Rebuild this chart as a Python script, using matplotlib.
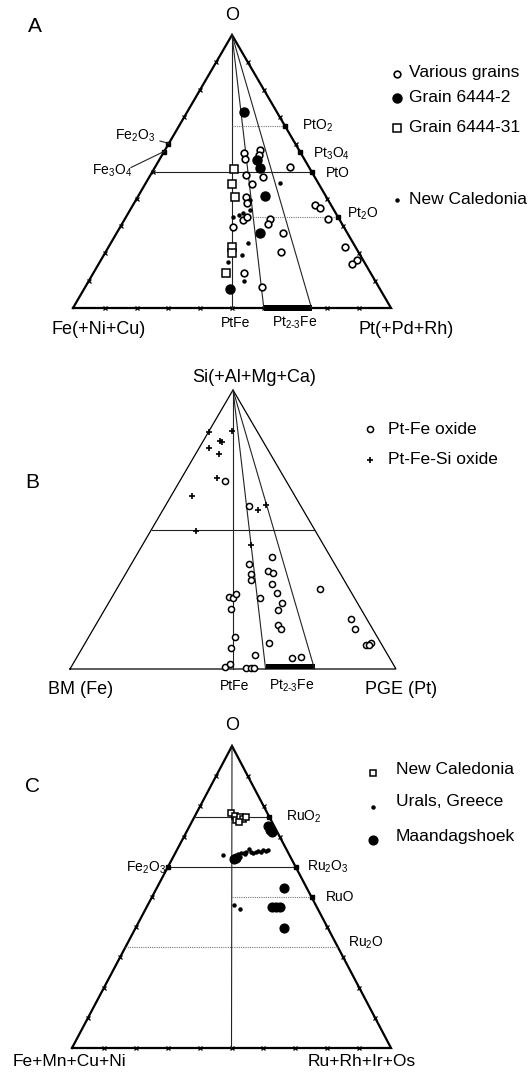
import matplotlib
matplotlib.use("Agg")
import matplotlib.pyplot as plt
import numpy as np

plt.rcParams['font.family'] = ['Liberation Sans', 'DejaVu Sans']
plt.rcParams['mathtext.fontset'] = 'custom'
plt.rcParams['mathtext.rm'] = 'Liberation Sans'
plt.rcParams['mathtext.default'] = 'regular'

# ---- data: ternary fractions (O = top apex, Pt/Ru = right corner) ----
# panel A
a_various_O = [0.579, 0.560, 0.569, 0.545, 0.515, 0.487, 0.479, 0.453, 0.405, 0.386,
               0.322, 0.334, 0.298, 0.325, 0.308, 0.274, 0.206, 0.129, 0.076, 0.377,
               0.365, 0.325, 0.223, 0.174, 0.161]
a_various_Pt = [0.297, 0.306, 0.254, 0.269, 0.425, 0.300, 0.359, 0.335, 0.341, 0.353,
                0.375, 0.381, 0.353, 0.457, 0.460, 0.522, 0.552, 0.473, 0.556, 0.572,
                0.594, 0.638, 0.743, 0.806, 0.796]
a_g2_O = [0.719, 0.542, 0.512, 0.410, 0.274, 0.068]
a_g2_Pt = [0.178, 0.307, 0.332, 0.399, 0.451, 0.459]
a_g31_O = [0.508, 0.454, 0.408, 0.225, 0.203, 0.129]
a_g31_Pt = [0.252, 0.272, 0.305, 0.389, 0.400, 0.418]
a_nc_O = [0.457, 0.359, 0.334, 0.341, 0.237, 0.194, 0.170, 0.099, 0.396, 0.348]
a_nc_Pt = [0.423, 0.377, 0.335, 0.353, 0.433, 0.435, 0.403, 0.488, 0.359, 0.361]

# panel B
b_si_O = [0.851, 0.854, 0.818, 0.813, 0.792, 0.771, 0.685, 0.619, 0.494, 0.589, 0.571, 0.444]
b_si_Pt = [0.000, 0.070, 0.052, 0.060, 0.029, 0.073, 0.109, 0.066, 0.140, 0.306, 0.292, 0.333]
b_ox_O = [0.673, 0.586, 0.402, 0.375, 0.339, 0.320, 0.351, 0.343, 0.306, 0.274, 0.255, 0.288,
          0.236, 0.211, 0.258, 0.255, 0.268, 0.214, 0.158, 0.145, 0.181, 0.145, 0.086, 0.093,
          0.113, 0.075, 0.094, 0.049, 0.038, 0.042, 0.006, 0.018, 0.002, 0.002, 0.004, 0.087]
b_ox_Pt = [0.138, 0.256, 0.418, 0.362, 0.385, 0.394, 0.431, 0.450, 0.466, 0.498, 0.456, 0.622,
           0.533, 0.534, 0.358, 0.374, 0.374, 0.387, 0.560, 0.576, 0.770, 0.801, 0.866, 0.878,
           0.451, 0.456, 0.562, 0.543, 0.663, 0.689, 0.472, 0.481, 0.540, 0.554, 0.563, 0.874]

# panel C
c_nc_O = [0.778, 0.767, 0.754, 0.765, 0.757, 0.765, 0.748]
c_nc_Ru = [0.107, 0.127, 0.137, 0.144, 0.157, 0.163, 0.149]
c_ur_O = [0.640, 0.635, 0.641, 0.645, 0.647, 0.650, 0.659, 0.650, 0.646, 0.649, 0.651,
          0.650, 0.654, 0.652, 0.656, 0.643, 0.632, 0.473, 0.460]
c_ur_Ru = [0.152, 0.196, 0.200, 0.206, 0.214, 0.221, 0.225, 0.234, 0.244, 0.251, 0.258,
           0.266, 0.272, 0.281, 0.285, 0.220, 0.211, 0.270, 0.295]
c_ma_O = [0.735, 0.723, 0.716, 0.625, 0.630, 0.531, 0.467, 0.467, 0.467, 0.399]
c_ma_Ru = [0.247, 0.259, 0.269, 0.194, 0.199, 0.397, 0.394, 0.406, 0.419, 0.463]

# triangle corners (left, right, top) in figure pixels
panA = ((73, 308), (391, 308), (232, 35))
panB = ((70, 669), (396, 669), (233, 390))
panC = ((72, 1048), (391, 1048), (232, 746))


def tern(pan, o, pt):
    L, R, T = pan
    o = np.asarray(o, float)
    pt = np.asarray(pt, float)
    fe = 1 - o - pt
    return fe*L[0] + pt*R[0] + o*T[0], fe*L[1] + pt*R[1] + o*T[1]


def seg(ax, pan, p1, p2, **kw):
    x, y = tern(pan, [p1[0], p2[0]], [p1[1], p2[1]])
    ax.plot(x, y, **kw)


fig = plt.figure(figsize=(5.31, 10.72), dpi=100)
ax = fig.add_axes([0, 0, 1, 1])
ax.set_xlim(0, 531)
ax.set_ylim(1072, 0)
ax.axis('off')

thin = dict(color='#222222', lw=0.8)
dots = dict(color='#777777', lw=0.8, ls=(0, (1, 1)))


def frame(pan, lw):
    L, R, T = pan
    ax.plot([L[0], R[0], T[0], L[0]], [L[1], R[1], T[1], L[1]], color='black', lw=lw,
            solid_joinstyle='miter')


def ticks(pan):
    f = np.arange(1, 10) / 10
    for o, pt in [(np.zeros(9), f), (f, np.zeros(9)), (f, 1 - f)]:
        x, y = tern(pan, o, pt)
        ax.plot(x, y, 'x', color='black', ms=3.5, mew=0.9)


def edge_sq(pan, o, pt):
    x, y = tern(pan, o, pt)
    ax.plot(x, y, 's', color='black', ms=3.4)


def bar(pan, o1, o2):
    b = np.array([0.6, 0.75, 0.75, 0.6])
    o = np.array([o1, o1, o2, o2])
    x, y = tern(pan, o, b - o / 2)
    ax.fill(x, y, color='black', lw=0)


# ================= panel A =================
frame(panA, 1.6)
ticks(panA)
seg(ax, panA, (1, 0), (0, 0.5), **thin)
seg(ax, panA, (1, 0), (0, 0.6), **thin)
seg(ax, panA, (1, 0), (0, 0.75), **thin)
seg(ax, panA, (0.5, 0), (0.5, 0.5), **thin)
seg(ax, panA, (2/3, 1/6), (2/3, 1/3), **dots)
seg(ax, panA, (1/3, 0.4), (1/3, 2/3), **dots)
bar(panA, -0.012, 0.012)
edge_sq(panA, [0.6, 4/7], [0, 0])
edge_sq(panA, [2/3, 4/7, 0.5, 1/3], [1/3, 3/7, 0.5, 2/3])
ax.plot([160, 169], [141, 143.5], color='#222222', lw=0.8)
ax.plot([131, 165], [167.5, 151], color='#222222', lw=0.8)

x, y = tern(panA, a_nc_O, a_nc_Pt)
ax.plot(x, y, 'o', color='black', ms=2.2, ls='none')
x, y = tern(panA, a_various_O, a_various_Pt)
ax.plot(x, y, 'o', mfc='white', mec='black', ms=4.8, mew=1.2, ls='none')
x, y = tern(panA, a_g31_O, a_g31_Pt)
ax.plot(x, y, 's', mfc='white', mec='black', ms=5.6, mew=1.1, ls='none')
x, y = tern(panA, a_g2_O, a_g2_Pt)
ax.plot(x, y, 'o', color='black', ms=6.5, ls='none')

ax.text(35, 26, 'A', fontsize=15, ha='center', va='center')
ax.text(232, 15, 'O', fontsize=13, ha='center', va='center')
ax.text(99, 330, 'Fe(+Ni+Cu)', fontsize=13, ha='center', va='center')
ax.text(406, 330, 'Pt(+Pd+Rh)', fontsize=13, ha='center', va='center')
ax.text(236, 323, 'PtFe', fontsize=10, ha='center', va='center')
ax.text(295, 323, r'Pt$_{2\text{-}3}$Fe', fontsize=10, ha='center', va='center')
ax.text(115, 136, r'Fe$_2$O$_3$', fontsize=10, ha='left', va='center')
ax.text(92, 171, r'Fe$_3$O$_4$', fontsize=10, ha='left', va='center')
ax.text(302, 126, r'PtO$_2$', fontsize=10, ha='left', va='center')
ax.text(313, 154, r'Pt$_3$O$_4$', fontsize=10, ha='left', va='center')
ax.text(326, 173, 'PtO', fontsize=10, ha='left', va='center')
ax.text(347, 214, r'Pt$_2$O', fontsize=10, ha='left', va='center')

ax.plot(397, 74, 'o', mfc='white', mec='black', ms=4.8, mew=1.2)
ax.plot(397, 98, 'o', color='black', ms=6.5)
ax.plot(397, 128, 's', mfc='white', mec='black', ms=5.6, mew=1.1)
ax.plot(397, 200, 'o', color='black', ms=2.2)
ax.text(409, 73, 'Various grains', fontsize=12.5, va='center')
ax.text(409, 98, 'Grain 6444-2', fontsize=12.5, va='center')
ax.text(409, 128, 'Grain 6444-31', fontsize=12.5, va='center')
ax.text(409, 200, 'New Caledonia', fontsize=12.5, va='center')

# ================= panel B =================
frame(panB, 0.9)
seg(ax, panB, (1, 0), (0, 0.5), **thin)
seg(ax, panB, (1, 0), (0, 0.6), **thin)
seg(ax, panB, (1, 0), (0, 0.75), **thin)
seg(ax, panB, (0.5, 0), (0.5, 0.5), **thin)
bar(panB, 0.0, 0.019)

x, y = tern(panB, b_si_O, b_si_Pt)
ax.plot(x, y, '+', color='black', ms=3.8, mew=1.2, ls='none')
x, y = tern(panB, b_ox_O, b_ox_Pt)
ax.plot(x, y, 'o', mfc='white', mec='black', ms=4.4, mew=1.1, ls='none')

ax.text(32, 483, 'B', fontsize=15, ha='center', va='center')
ax.text(254, 378, 'Si(+Al+Mg+Ca)', fontsize=13, ha='center', va='center')
ax.text(81, 689, 'BM (Fe)', fontsize=13, ha='center', va='center')
ax.text(401, 689, 'PGE (Pt)', fontsize=13, ha='center', va='center')
ax.text(235, 686, 'PtFe', fontsize=10, ha='center', va='center')
ax.text(292, 686, r'Pt$_{2\text{-}3}$Fe', fontsize=10, ha='center', va='center')

ax.plot(370, 429, 'o', mfc='white', mec='black', ms=4.4, mew=1.1)
ax.plot(370, 460, '+', color='black', ms=3.8, mew=1.2)
ax.text(388, 429, 'Pt-Fe oxide', fontsize=12.5, va='center')
ax.text(388, 460, 'Pt-Fe-Si oxide', fontsize=12.5, va='center')

# ================= panel C =================
frame(panC, 1.6)
ticks(panC)
seg(ax, panC, (1, 0), (0, 0.5), **thin)
seg(ax, panC, (0.765, 0), (0.765, 0.235), **thin)
seg(ax, panC, (0.6, 0), (0.6, 0.4), **thin)
seg(ax, panC, (0.5, 0.25), (0.5, 0.5), **dots)
seg(ax, panC, (1/3, 0), (1/3, 2/3), **dots)
edge_sq(panC, [0.6], [0])
edge_sq(panC, [0.765, 0.6, 0.5], [0.235, 0.4, 0.5])

x, y = tern(panC, c_nc_O, c_nc_Ru)
ax.plot(x, y, 's', mfc='white', mec='black', ms=4.4, mew=1.1, ls='none')
x, y = tern(panC, c_ur_O, c_ur_Ru)
ax.plot(x, y, 'o', color='black', ms=2.2, ls='none')
x, y = tern(panC, c_ma_O, c_ma_Ru)
ax.plot(x, y, 'o', color='black', ms=6.3, ls='none')

ax.text(32, 787, 'C', fontsize=15, ha='center', va='center')
ax.text(232, 725, 'O', fontsize=13, ha='center', va='center')
ax.text(69, 1061, 'Fe+Mn+Cu+Ni', fontsize=12.5, ha='center', va='center')
ax.text(362, 1061, 'Ru+Rh+Ir+Os', fontsize=12.5, ha='center', va='center')
ax.text(286, 817, r'RuO$_2$', fontsize=10, ha='left', va='center')
ax.text(307, 867, r'Ru$_2$O$_3$', fontsize=10, ha='left', va='center')
ax.text(326, 897, 'RuO', fontsize=10, ha='left', va='center')
ax.text(348, 943, r'Ru$_2$O', fontsize=10, ha='left', va='center')
ax.text(166, 868, r'Fe$_2$O$_3$', fontsize=10, ha='right', va='center')

ax.plot(373, 773, 's', mfc='white', mec='black', ms=4.4, mew=1.1)
ax.plot(373, 807, 'o', color='black', ms=2.2)
ax.plot(373, 840, 'o', color='black', ms=6.3)
ax.text(396, 770, 'New Caledonia', fontsize=12.5, va='center')
ax.text(396, 802, 'Urals, Greece', fontsize=12.5, va='center')
ax.text(396, 836, 'Maandagshoek', fontsize=12.5, va='center')

fig.savefig('out.png', dpi=100)
